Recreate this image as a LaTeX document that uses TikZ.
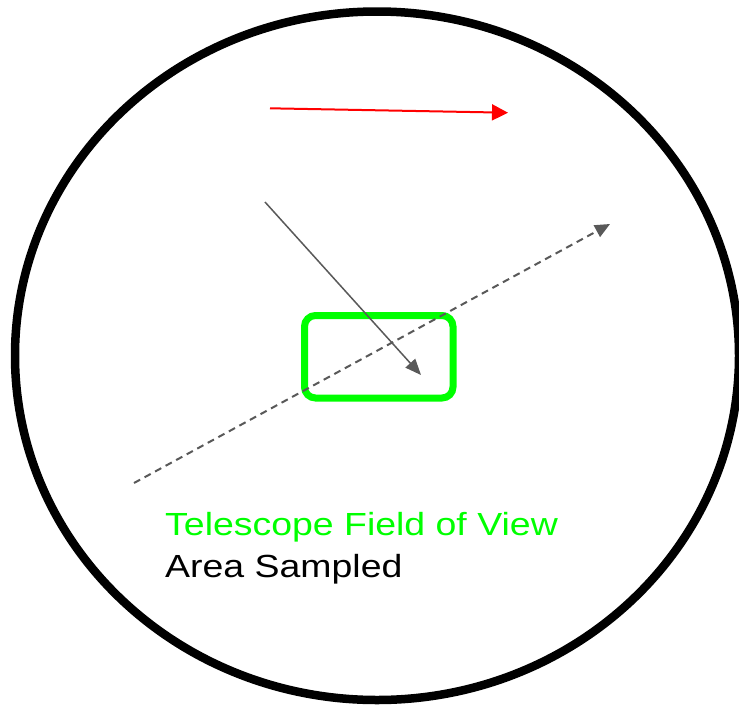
\documentclass[tikz,border=0pt]{standalone}
\usepackage{fontspec}
\setmainfont{Liberation Sans}
\usetikzlibrary{arrows.meta}
\definecolor{fovgreen}{HTML}{00FF00}
\definecolor{arrowgray}{HTML}{595959}
\definecolor{arrowred}{HTML}{FF0000}
\tikzset{
  lens/.style={draw=black, line width=8.5pt},
  fov/.style={draw=fovgreen, line width=7pt, rounded corners=11pt, minimum width=148.5pt, minimum height=82.5pt, inner sep=0pt},
  redarrow/.style={draw=arrowred, line width=2pt, -{Triangle[length=16pt,width=16pt]}},
  grayarrow/.style={draw=arrowgray, line width=1.5pt, -{Triangle[length=16pt,width=13pt]}},
  dasharrow/.style={draw=arrowgray, line width=2pt, dash pattern=on 7pt off 5pt, -{Triangle[length=15pt,width=13pt]}},
  label/.style={font=\fontsize{32pt}{38pt}\selectfont, anchor=base west, inner sep=0pt}
}
\newcommand{\widetext}[1]{\scalebox{1.17}[1]{#1}}
\begin{document}
\begin{tikzpicture}[x=1pt,y=-1pt]
\useasboundingbox (0,0) rectangle (739,705);
\clip (0,0) rectangle (739,705);
\fill[white] (0,0) rectangle (739,705);
\draw[lens] (377,355.75) ellipse [x radius=362, y radius=344.25];
\node[fov] (box) at (378.75,356.75) {};
\coordinate (r1) at (270,108.3);
\coordinate (r2) at (508,112.7);
\draw[redarrow] (r1) -- (r2);
\coordinate (g1) at (265,202);
\coordinate (g2) at (421,375);
\draw[grayarrow] (g1) -- (g2);
\coordinate (d1) at (134,483);
\coordinate (d2) at (610,224);
\draw[dasharrow] (d1) -- (d2);
\node[label, text=fovgreen] (t1) at (165,535) {\widetext{Telescope Field of View}};
\node[label, text=black] (t2) at (165,577) {\widetext{Area Sampled}};
\end{tikzpicture}
\end{document}
